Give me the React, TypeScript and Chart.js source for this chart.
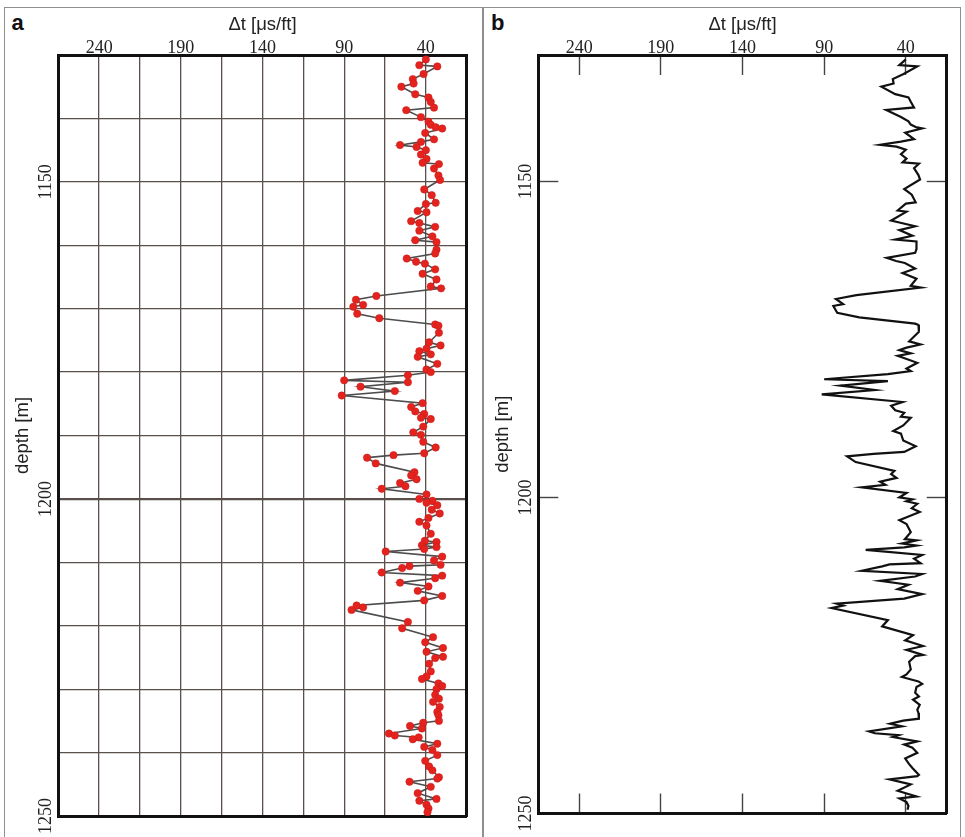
import React, { useEffect, useRef } from "react";
import { Chart, registerables } from "chart.js";

Chart.register(...registerables);

// ---- data ----
const depthM = [
  1130.7, 1131.6, 1131.8, 1133.0, 1133.8, 1134.5, 1135.0, 1136.2, 1136.7, 1137.4,
  1138.3, 1138.7, 1139.8, 1140.5, 1141.0, 1141.4, 1141.6, 1142.3, 1143.3, 1143.7,
  1144.2, 1144.5, 1145.0, 1145.7, 1146.4, 1147.0, 1147.2, 1147.9, 1149.0, 1149.7,
  1151.2, 1152.1, 1153.3, 1153.5, 1154.6, 1154.8, 1156.2, 1156.5, 1157.1, 1157.7,
  1158.6, 1159.2, 1159.5, 1160.7, 1161.3, 1162.1, 1162.6, 1162.9, 1163.8, 1164.5,
  1165.4, 1166.5, 1166.8, 1168.0, 1168.6, 1169.4, 1169.7, 1170.8, 1171.5, 1172.5,
  1172.7, 1173.8, 1175.3, 1175.8, 1176.3, 1176.7, 1177.2, 1177.6, 1178.7, 1179.6,
  1180.0, 1180.5, 1181.3, 1181.6, 1182.3, 1183.0, 1183.7, 1184.9, 1185.5, 1186.2,
  1186.6, 1187.2, 1187.4, 1188.6, 1189.5, 1189.9, 1191.0, 1191.9, 1192.8, 1193.1,
  1193.5, 1194.4, 1195.8, 1196.3, 1196.9, 1197.5, 1198.0, 1198.4, 1199.3, 1200.0,
  1200.3, 1200.6, 1201.0, 1201.7, 1202.3, 1203.0, 1203.6, 1204.2, 1205.5, 1206.6,
  1206.8, 1207.3, 1207.6, 1207.9, 1208.3, 1209.1, 1209.7, 1210.4, 1210.6, 1210.9,
  1211.6, 1212.1, 1212.5, 1213.2, 1213.8, 1214.5, 1215.3, 1216.0, 1216.8, 1217.1,
  1217.5, 1219.4, 1220.4, 1221.8, 1222.6, 1223.5, 1224.1, 1224.9, 1225.1, 1226.0,
  1227.2, 1228.0, 1228.4, 1229.1, 1229.5, 1230.0, 1230.9, 1231.5, 1232.0, 1232.8,
  1233.6, 1234.1, 1235.0, 1235.3, 1235.8, 1236.2, 1237.0, 1237.3, 1237.6, 1237.9,
  1238.6, 1239.1, 1239.6, 1240.4, 1241.3, 1242.2, 1242.8, 1243.9, 1244.1, 1244.6,
  1245.4, 1246.4, 1247.3, 1247.6, 1248.2, 1248.8, 1249.4,
];

const deltaT = [
  40, 44, 33, 41.4, 48, 47.5, 55, 46.5, 38.4, 37,
  35, 52, 43, 38.4, 37, 34, 30, 40.4, 35, 43,
  55.8, 45.7, 40, 43, 39.6, 42, 32, 35, 32.3, 31.3,
  41, 36.4, 34, 40, 45, 39.6, 49, 44, 34.3, 44,
  36, 46.5, 33.5, 33.5, 34.3, 51.7, 46, 40.6, 34.3, 42,
  33.5, 37, 30.7, 70.3, 82.8, 78.4, 84.4, 82, 68.5, 34.3,
  32.3, 32, 38, 31, 39.6, 44, 37, 45, 33, 39.6,
  37, 51, 90, 51, 80, 59, 91.5, 42, 49, 46.5,
  41, 43, 37, 41.6, 47.7, 43, 41.6, 34, 41, 59.8,
  76, 70.7, 47, 49, 45.7, 55.8, 52.5, 67, 39.6, 44,
  36, 39.6, 33, 36.4, 31.5, 38.4, 44, 39.6, 37, 40.6,
  33.5, 42.4, 33.5, 41, 64.6, 30, 35, 31, 50, 54.5,
  67, 30, 34.3, 55.8, 38.4, 45, 30, 41, 82.4, 78.4,
  85.5, 51, 54.5, 35.6, 40.4, 29.5, 39.6, 29.5, 34.3, 38,
  37, 39.6, 42.4, 32.3, 30, 33.5, 34.3, 32, 35.6, 31.5,
  33, 32.3, 32, 41.6, 49.7, 42.4, 62.6, 59, 44.4, 48,
  33, 41, 36, 33, 40.4, 38, 36, 32, 33, 50,
  37, 45, 33.5, 44, 39.6, 38.4, 39,
];

const xTickValues = [240, 190, 140, 90, 40];
const depthLabelValues = [1150, 1200, 1250];
const depthSideTicks = [1150, 1200];
const xAxisTitle = "Δt [μs/ft]";
const yAxisTitle = "depth [m]";
const panelLetters = ["a", "b"];

const X_MIN = 15;
const X_MAX = 265;
const Y_MIN = 1130;
const Y_MAX = 1250;

// ---- layout ----
const CANVAS_W_A = 480;
const CANVAS_W_B = 485;
const CANVAS_H = 837;
const AREA_LEFT = 58.3;
const AREA_TOP = 55;
const AREA_BOTTOM = 816;
const AREA_RIGHT = 466.7;

const SERIF = "'Liberation Serif', 'Times New Roman', serif";
const SANS = "'Liberation Sans', Arial, sans-serif";

const tickFont = { family: SERIF, size: 18, lineHeight: 1 };
const titleFont = { family: SANS, size: 18.5 };
const BORDER = { display: true, width: 3, color: "#111111" };

function makeConfig(panel: "a" | "b", canvasW: number): any {
  const points = depthM.map((d, i) => ({ x: deltaT[i], y: d }));
  const isA = panel === "a";

  const dataset = isA
    ? {
        data: points,
        showLine: true,
        borderColor: "#4d4d4d",
        borderWidth: 1.6,
        pointRadius: 3.7,
        pointBackgroundColor: "#e4231f",
        pointBorderColor: "#c91b17",
        pointBorderWidth: 0.5,
        tension: 0,
      }
    : {
        data: points,
        showLine: true,
        borderColor: "#111111",
        borderWidth: 2.2,
        pointRadius: 0,
        tension: 0,
      };

  const setTicks = (vals: number[]) => (s: any) => {
    s.ticks = vals.map((v) => ({ value: v }));
  };

  const gridA = {
    display: true,
    drawOnChartArea: true,
    drawTicks: false,
    color: "#5a4f4b",
    lineWidth: (ctx: any) => (ctx.tick && ctx.tick.value === 1200 ? 2.2 : 1.3),
  };
  const gridB = {
    display: true,
    drawOnChartArea: false,
    drawTicks: true,
    tickLength: -20,
    tickColor: "#444444",
    tickWidth: 1.4,
  };

  const scales: any = {
    x: {
      type: "linear",
      position: "top",
      min: X_MIN,
      max: X_MAX,
      reverse: true,
      afterFit: (s: any) => {
        s.height = AREA_TOP;
      },
      ticks: {
        stepSize: 25,
        autoSkip: false,
        maxRotation: 0,
        minRotation: 0,
        padding: isA ? -2 : 18,
        color: "#222222",
        font: tickFont,
        callback: (v: any) => (xTickValues.includes(Number(v)) ? String(v) : ""),
      },
      grid: isA ? gridA : gridB,
      border: BORDER,
      title: {
        display: true,
        text: xAxisTitle,
        color: "#222222",
        font: titleFont,
        padding: { top: 14, bottom: 0 },
      },
    },
    y: {
      type: "linear",
      position: "left",
      min: Y_MIN,
      max: Y_MAX,
      reverse: true,
      afterFit: (s: any) => {
        s.width = AREA_LEFT;
      },
      ticks: {
        stepSize: 10,
        autoSkip: false,
        minRotation: 90,
        maxRotation: 90,
        crossAlign: "center",
        padding: isA ? -5.5 : 14.5,
        color: "#222222",
        font: tickFont,
        callback: (v: any) => (depthLabelValues.includes(Number(v)) ? String(v) : ""),
      },
      grid: isA ? gridA : gridB,
      border: BORDER,
      title: {
        display: true,
        text: yAxisTitle,
        color: "#222222",
        font: titleFont,
        padding: { top: 11.5, bottom: 0 },
      },
    },
    x2: {
      type: "linear",
      position: "bottom",
      axis: "x",
      min: X_MIN,
      max: X_MAX,
      reverse: true,
      afterFit: (s: any) => {
        s.height = CANVAS_H - AREA_BOTTOM;
      },
      ticks: { display: false },
      grid: isA ? { drawOnChartArea: false, drawTicks: false } : gridB,
      border: BORDER,
    },
    y2: {
      type: "linear",
      position: "right",
      axis: "y",
      min: Y_MIN,
      max: Y_MAX,
      reverse: true,
      afterFit: (s: any) => {
        s.width = canvasW - AREA_RIGHT;
      },
      ticks: { display: false },
      grid: isA ? { drawOnChartArea: false, drawTicks: false } : gridB,
      border: BORDER,
    },
  };

  if (!isA) {
    scales.x.afterBuildTicks = setTicks(xTickValues);
    scales.y.afterBuildTicks = setTicks(depthLabelValues);
    scales.x2.afterBuildTicks = setTicks(xTickValues);
    scales.y2.afterBuildTicks = setTicks(depthSideTicks);
  }

  return {
    type: "scatter",
    data: { datasets: [dataset] },
    options: {
      responsive: false,
      maintainAspectRatio: false,
      animation: false,
      devicePixelRatio: 1,
      layout: { padding: 0, autoPadding: false },
      plugins: {
        legend: { display: false },
        tooltip: { enabled: false },
        title: { display: false },
      },
      scales,
    },
  };
}

export default function App() {
  const refA = useRef<HTMLCanvasElement | null>(null);
  const refB = useRef<HTMLCanvasElement | null>(null);

  useEffect(() => {
    const charts: Chart[] = [];
    if (refA.current) charts.push(new Chart(refA.current, makeConfig("a", CANVAS_W_A)));
    if (refB.current) charts.push(new Chart(refB.current, makeConfig("b", CANVAS_W_B)));
    return () => {
      charts.forEach((c) => c.destroy());
    };
  }, []);

  const frameColor = "#8f8f8f";
  const letterStyle: React.CSSProperties = {
    position: "absolute",
    top: 12,
    fontFamily: SANS,
    fontWeight: "bold",
    fontSize: 22,
    lineHeight: "22px",
    color: "#111",
  };

  return (
    <div
      style={{
        position: "absolute",
        left: 0,
        top: 0,
        width: 965,
        height: 837,
        overflow: "hidden",
        background: "#ffffff",
      }}
    >
      <div
        style={{
          position: "absolute",
          left: 4,
          top: 6.5,
          width: 957,
          height: 860,
          border: `1.5px solid ${frameColor}`,
          boxSizing: "border-box",
        }}
      />
      <div
        style={{
          position: "absolute",
          left: 482.2,
          top: 6.5,
          width: 1.5,
          height: 840,
          background: frameColor,
        }}
      />
      <div style={{ ...letterStyle, left: 11.5 }}>{panelLetters[0]}</div>
      <div style={{ ...letterStyle, left: 491 }}>{panelLetters[1]}</div>
      <canvas
        ref={refA}
        width={CANVAS_W_A}
        height={CANVAS_H}
        style={{ position: "absolute", left: 0, top: 0, width: CANVAS_W_A, height: CANVAS_H }}
      />
      <canvas
        ref={refB}
        width={CANVAS_W_B}
        height={CANVAS_H}
        style={{ position: "absolute", left: 480, top: 0, width: CANVAS_W_B, height: CANVAS_H }}
      />
    </div>
  );
}
